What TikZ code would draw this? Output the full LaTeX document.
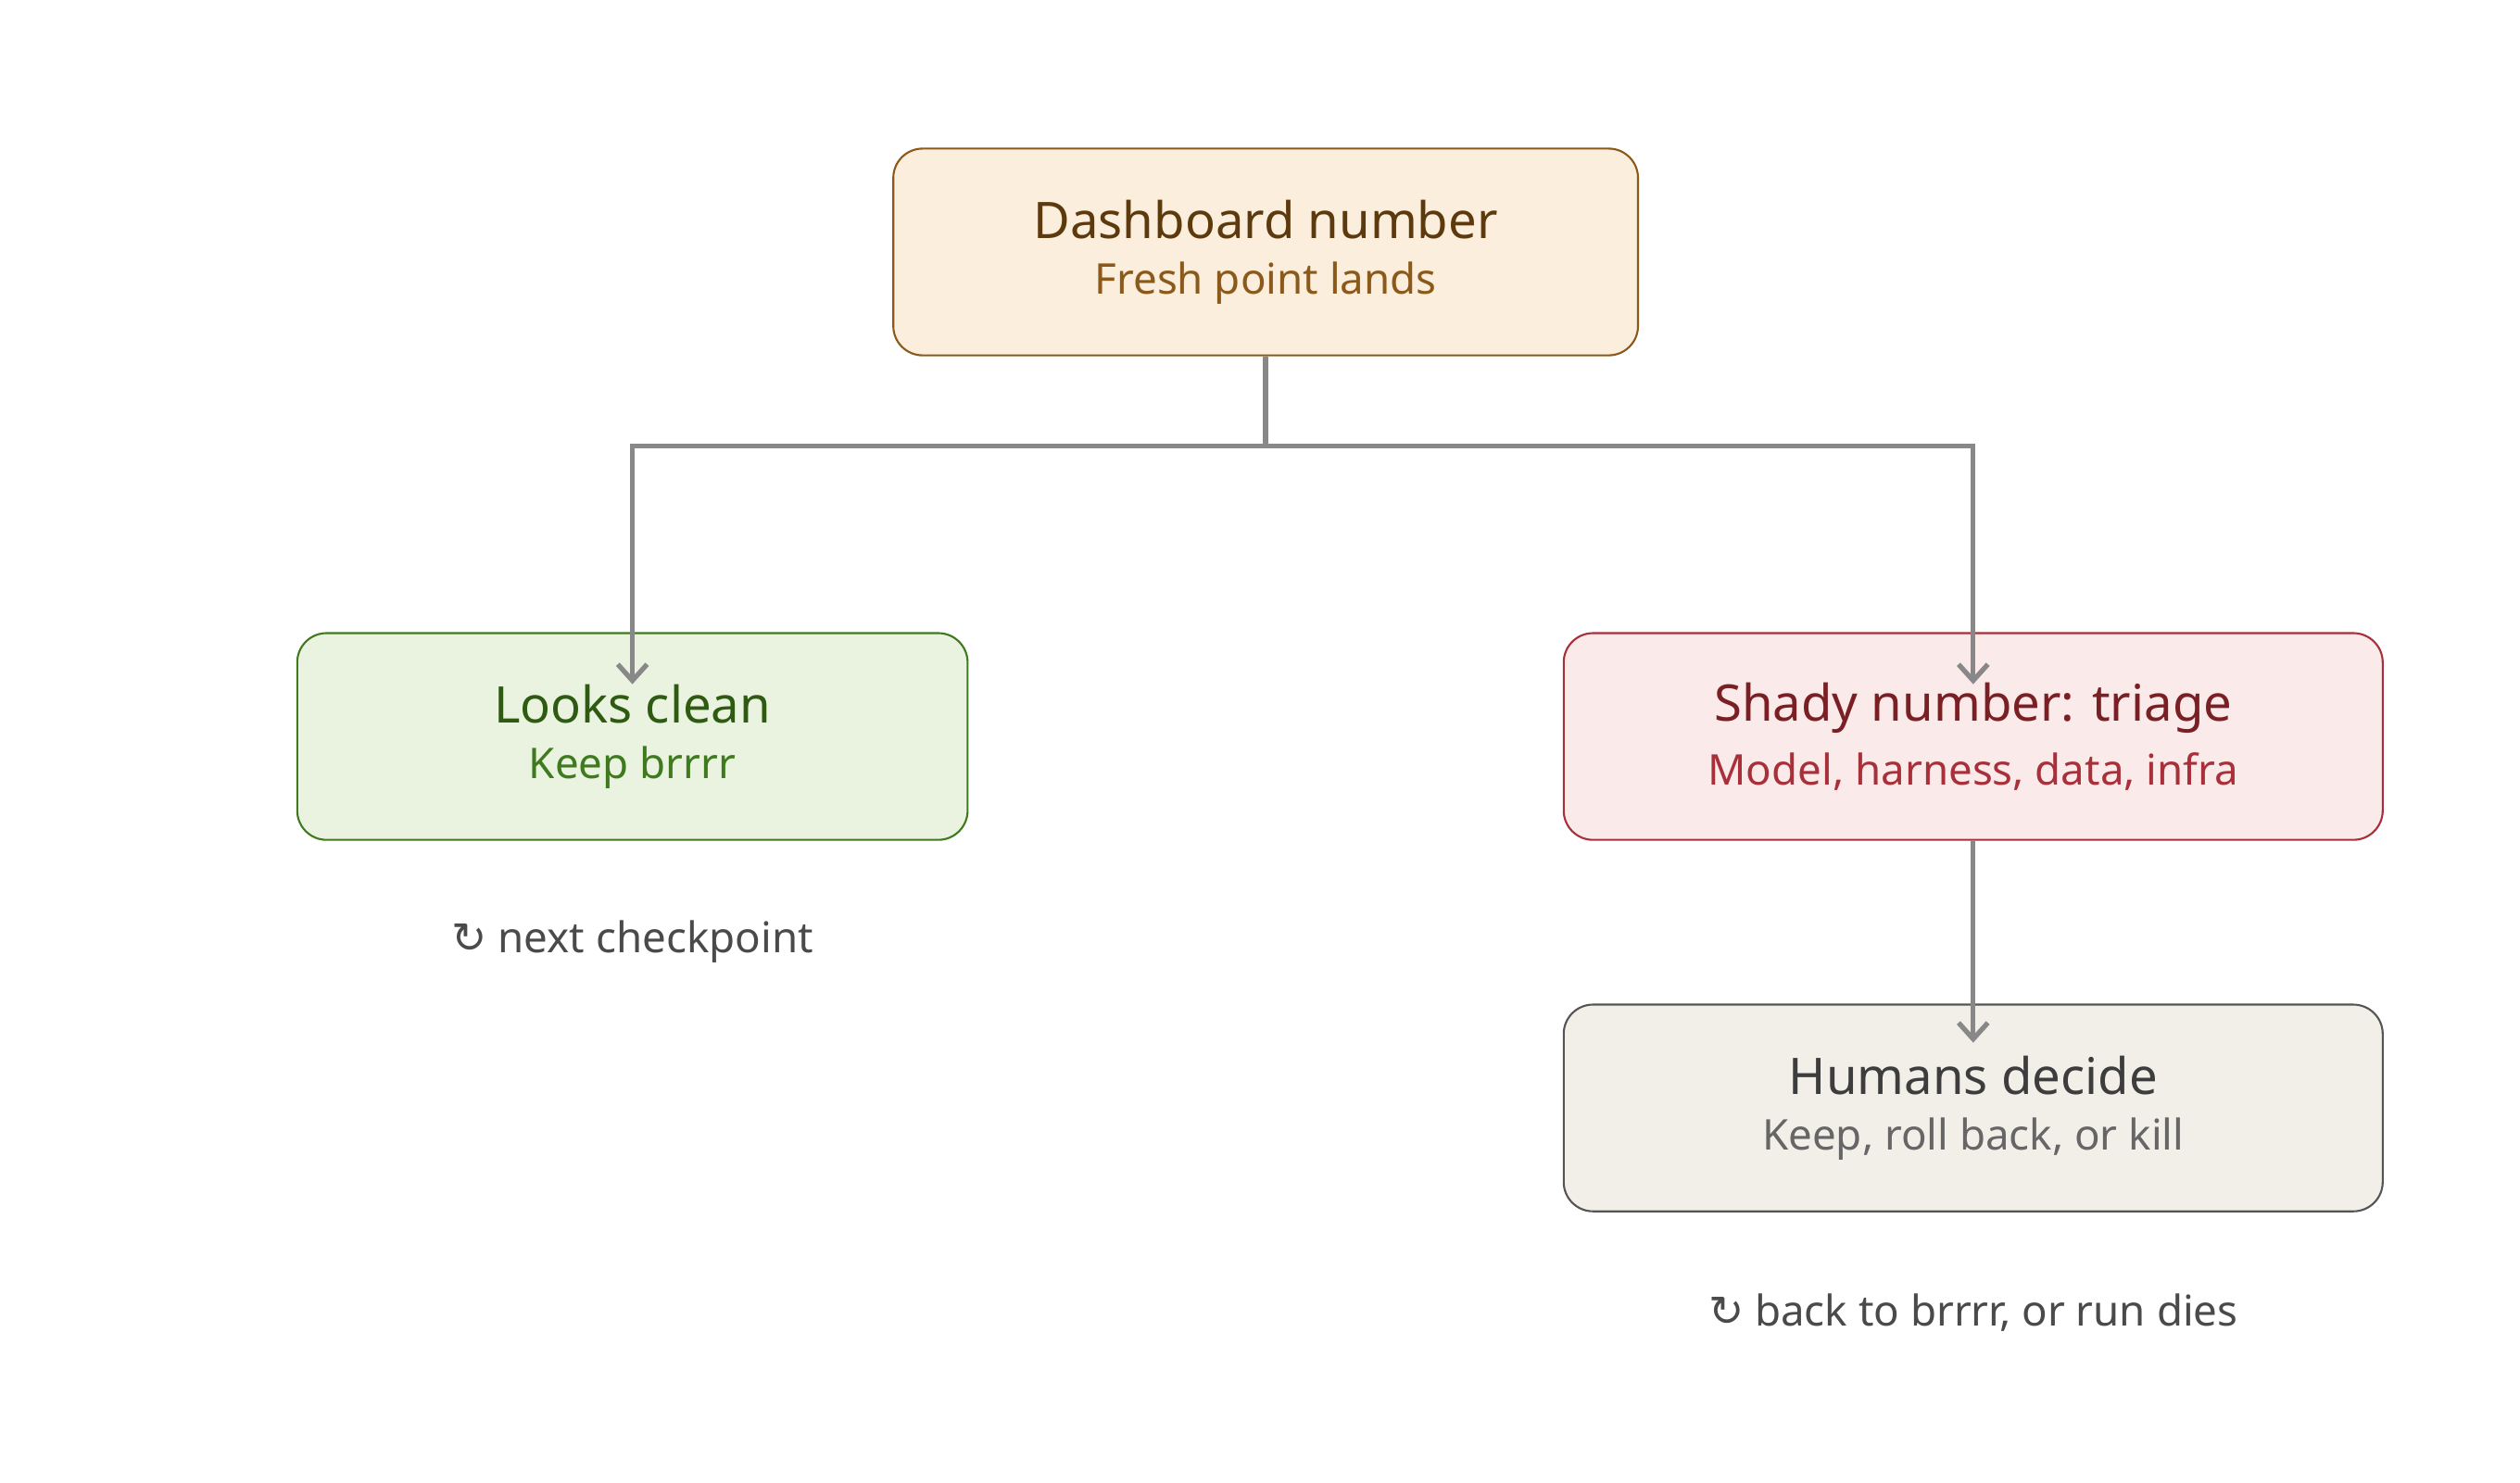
\documentclass[tikz,border=0pt]{standalone}
\usepackage{fontspec}
\setmainfont{Noto Sans}
\newfontfamily\symfont{DejaVu Sans}
\usetikzlibrary{positioning,arrows.meta}
\definecolor{topfill}{HTML}{FBEEDC}
\definecolor{topline}{HTML}{8B5A1A}
\definecolor{toptext}{HTML}{5C3A0E}
\definecolor{okfill}{HTML}{EAF3E0}
\definecolor{okline}{HTML}{3F7A1F}
\definecolor{oktext}{HTML}{2E5A12}
\definecolor{badfill}{HTML}{FBEAEA}
\definecolor{badline}{HTML}{A8303A}
\definecolor{badtext}{HTML}{7A1F24}
\definecolor{humfill}{HTML}{F2EFE8}
\definecolor{humline}{HTML}{555555}
\definecolor{humtext}{HTML}{3D3D3D}
\definecolor{humsub}{HTML}{666666}
\definecolor{wire}{HTML}{888888}
\definecolor{note}{HTML}{4A4A4A}
\tikzset{
  box/.style={rectangle,rounded corners=9pt,line width=0.6pt,align=center,
    minimum height=128*0.017436cm,inner sep=0pt},
  flow/.style={draw=wire,line width=1.5pt,-{Straight Barb[length=5pt,width=9pt]}},
  loopnote/.style={text=note,font=\fontsize{13}{15}\selectfont}
}
\newcommand{\boxtext}[4]{{\color{#1}\fontsize{15.5}{18}\selectfont\bfseries #2}\\[5pt]{\color{#3}\fontsize{13}{15}\selectfont #4}}
\begin{document}
\begin{tikzpicture}[x=0.017436cm,y=-0.017436cm]
\useasboundingbox (0,0) rectangle (1560,918);

\node (dash) [box,fill=topfill,draw=topline,minimum width=461*0.017436cm] at (783.5,156)
  {\boxtext{toptext}{Dashboard number}{topline}{Fresh point lands}};
\node (clean) [box,fill=okfill,draw=okline,minimum width=415*0.017436cm] at (391.5,456)
  {\boxtext{oktext}{Looks clean}{okline}{Keep brrrr}};
\node (shady) [box,fill=badfill,draw=badline,minimum width=507*0.017436cm] at (1221.5,456)
  {\boxtext{badtext}{Shady number: triage}{badline}{Model, harness, data, infra}};
\node (human) [box,fill=humfill,draw=humline,minimum width=507*0.017436cm] at (1221.5,686)
  {\boxtext{humtext}{Humans decide}{humsub}{Keep, roll back, or kill}};

\node (loopa) [loopnote] at (391.5,583) {{\symfont ↻} next checkpoint};
\node (loopb) [loopnote] at (1221.5,813) {{\symfont ↻} back to brrrr, or run dies};

\coordinate (split) at (783.5,276);
\draw[draw=wire,line width=1.5pt] (dash.south) -- (split);
\draw[flow] (split) -| ([yshift=-16]clean.north);
\draw[flow] (split) -| ([yshift=-16]shady.north);
\draw[flow] (shady.south) -- ([yshift=-12]human.north);
\end{tikzpicture}
\end{document}
